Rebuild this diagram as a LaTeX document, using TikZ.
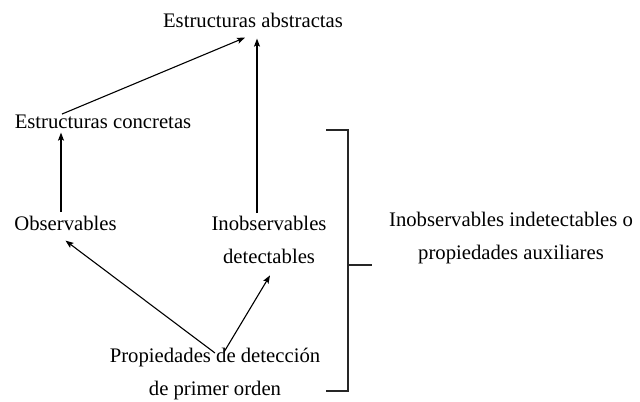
\documentclass[tikz,border=0pt]{standalone}
\usepackage{fontspec}
\setmainfont{Liberation Serif}
\usepackage{tikz}
\usetikzlibrary{calc,arrows.meta}

\begin{document}
\begin{tikzpicture}[x=0.5pt,y=-0.5pt,
    lbl/.style={inner sep=0pt,font=\fontsize{10.35pt}{16.5pt}\selectfont,align=center},
    arr/.style={line width=0.55pt,-{Stealth[length=4pt,width=3pt,inset=0.8pt]}}]
    \useasboundingbox (0,0) rectangle (640,401);
    \node[lbl,anchor=base] (abs) at (253,28) {Estructuras abstractas};
    \node[lbl,anchor=base] (conc) at (103,128) {Estructuras concretas};
    \node[lbl,anchor=base] (obs) at (65.5,230) {Observables};
    \node[lbl,anchor=north] (inob) at (269,216) {Inobservables\\detectables};
    \node[lbl,anchor=north] (prop) at (215,348) {Propiedades de detección\\de primer orden};
    \node[lbl,anchor=north] (aux) at (511,212) {Inobservables indetectables o\\propiedades auxiliares};
    \draw[arr] ($(conc.north)+(-41,0)$) -- ($(abs.south)+(-8,9)$);
    \draw[arr] ($(inob.north)+(-12,-3)$) -- ($(abs.south)+(4,10)$);
    \draw[arr] ($(obs.north)+(-4.5,-3)$) -- ($(conc.south)+(-42,4)$);
    \draw[arr] ($(prop.north)+(0,5)$) -- ($(obs.south)+(0,10)$);
    \draw[arr] ($(prop.north)+(9,4)$) -- ($(inob.south)+(1,11)$);
    % bracket
    \coordinate (brtop) at (326,130);
    \coordinate (brbot) at (326,391);
    \coordinate (brmid) at (348,265);
    \draw[line width=0.7pt,black!85] (brtop) -- (348,130) -- (348,391) -- (brbot);
    \draw[line width=0.7pt,black!85] (brmid) -- ++(24,0);
\end{tikzpicture}
\end{document}
